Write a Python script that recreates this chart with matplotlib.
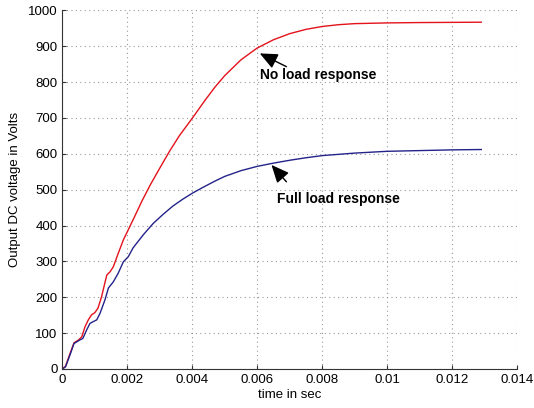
import matplotlib
matplotlib.use('Agg')
import matplotlib.pyplot as plt

# values
t_noload = [0, 0.0001, 0.00024, 0.00036, 0.0005, 0.0006, 0.0007, 0.0008, 0.0009, 0.001,
            0.0011, 0.00121, 0.00131, 0.00137, 0.00147, 0.00157, 0.00172, 0.00188, 0.00203,
            0.0022, 0.00245, 0.0027, 0.003, 0.0033, 0.0036, 0.004, 0.0044, 0.0047, 0.005,
            0.0055, 0.006, 0.0065, 0.007, 0.0075, 0.008, 0.0085, 0.009,
            0.01, 0.011, 0.012, 0.0129]
v_noload = [0, 8, 44, 73, 81, 90, 118, 137, 151, 157,
            170, 202, 240, 262, 271, 285, 322, 360, 388,
            420, 468, 512, 560, 607, 650, 699, 750, 786, 818,
            862, 895, 918, 935, 947, 955, 960, 963,
            965, 966, 966.5, 967]

t_fullload = [0, 0.0001, 0.00024, 0.00036, 0.00054, 0.00063, 0.00075, 0.00085, 0.00095, 0.00106,
              0.00116, 0.00131, 0.00142, 0.00157, 0.00172, 0.00188, 0.00203, 0.00218, 0.0025,
              0.0028, 0.0031, 0.0034, 0.0037, 0.004, 0.0043, 0.0047, 0.005, 0.0055, 0.006,
              0.0065, 0.007, 0.0075, 0.008, 0.009, 0.01, 0.011, 0.012, 0.0129]
v_fullload = [0, 6, 40, 71, 81, 85, 109, 127, 132, 137,
              155, 192, 226, 243, 267, 299, 313, 338, 375,
              406, 431, 454, 473, 490, 505, 524, 537, 553, 565,
              574, 582, 589, 595, 602, 607, 609, 611, 612]

x_ticks = [0, 0.002, 0.004, 0.006, 0.008, 0.01, 0.012, 0.014]
x_labels = ['0', '0.002', '0.004', '0.006', '0.008', '0.01', '0.012', '0.014']
y_ticks = [0, 100, 200, 300, 400, 500, 600, 700, 800, 900, 1000]

plt.rcParams['font.family'] = ['Liberation Sans', 'DejaVu Sans']

fig = plt.figure(figsize=(5.34, 4.08), dpi=100)
ax = fig.add_axes([0.1167, 0.0956, 0.8515, 0.879])

ax.plot(t_noload, v_noload, color='#e3121b', linewidth=1.0, solid_joinstyle='round')
ax.plot(t_fullload, v_fullload, color='#23238a', linewidth=1.0, solid_joinstyle='round')

ax.set_xlim(0, 0.014)
ax.set_ylim(0, 1000)
ax.set_xticks(x_ticks)
ax.set_xticklabels(x_labels)
ax.set_yticks(y_ticks)
ax.tick_params(direction='in', length=3, labelsize=9.5, color='#333333')
ax.grid(True, linestyle=(0, (1, 3)), color='#999999', linewidth=0.8)

# matlab style: no box, grid lines close the frame
ax.spines['top'].set_visible(False)
ax.spines['right'].set_visible(False)
ax.spines['left'].set_color('#333333')
ax.spines['bottom'].set_color('#333333')

ax.set_xlabel('time in sec', fontsize=9.5, labelpad=2)
ax.set_ylabel('Output DC voltage in Volts', fontsize=9.5, labelpad=5)

# annotations
arrow = dict(arrowstyle='-|>,head_length=0.9,head_width=0.4', color='black',
             lw=1.0, mutation_scale=12, shrinkA=0, shrinkB=0)
ax.annotate('', xy=(0.00608, 880), xytext=(0.0069, 843), arrowprops=arrow)
ax.text(0.00608, 820, 'No load response', fontsize=10, fontweight='bold',
        ha='left', va='center')

ax.annotate('', xy=(0.00644, 569), xytext=(0.0069, 522), arrowprops=arrow)
ax.text(0.0066, 473, 'Full load response', fontsize=10, fontweight='bold',
        ha='left', va='center')

plt.savefig('out.png', dpi=100)
